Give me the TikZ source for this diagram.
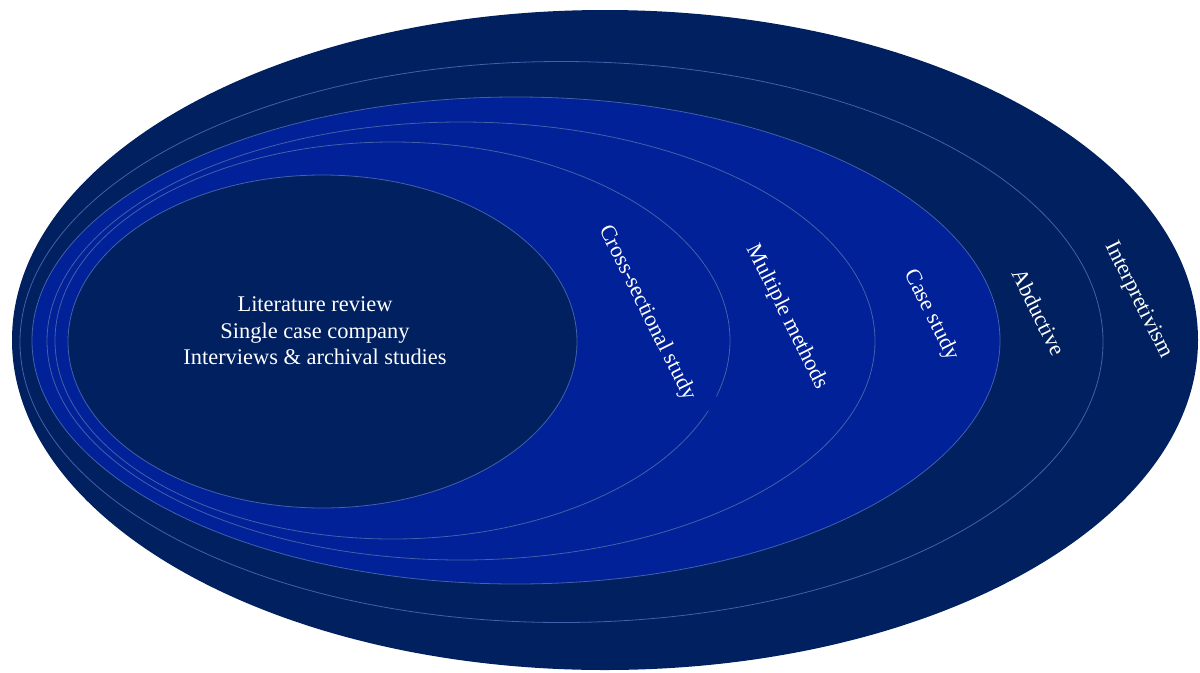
\documentclass[tikz,border=0pt]{standalone}
\usepackage{fontspec}
\setmainfont{Liberation Serif}
\definecolor{navy}{RGB}{0,32,96}
\definecolor{royal}{RGB}{0,33,152}
\definecolor{ringline}{RGB}{68,96,168}
\begin{document}
\begin{tikzpicture}[x=0.75pt,y=-0.75pt,
  ring/.style={draw=ringline,line width=0.6pt},
  lbl/.style={text=white,font=\fontsize{16.8}{20}\selectfont,rotate=-63.5,inner sep=0pt}]
\useasboundingbox (0,0) rectangle (1200,672);
% nested layers, outermost first
\fill[navy] (605,340) ellipse (593 and 330);
\filldraw[navy,ring] (561.5,342) ellipse (541.5 and 280.5);
\filldraw[royal,ring] (516,340.5) ellipse (484 and 243.5);
\filldraw[royal,ring] (461,341) ellipse (414 and 219);
\filldraw[royal,ring] (392.5,340.5) ellipse (337.5 and 198.5);
\filldraw[navy,ring] (322.5,341.5) ellipse (254.5 and 166.5);
% layer labels
\node[lbl] (interp) at (1138,300) {Interpretivism};
\node[lbl] (abduct) at (1039,312) {Abductive};
\node[lbl] (casest) at (931,315) {Case study};
\node[lbl] (multi) at (787,317) {Multiple methods};
\node[lbl,fill=royal,inner xsep=14pt,inner ysep=11pt] (cross) at (647,313) {Cross-sectional study};
\node[text=white,align=center,font=\fontsize{16.8}{19.9}\selectfont] (core) at (315,331)
  {Literature review\\Single case company\\Interviews \& archival studies};
\end{tikzpicture}
\end{document}
